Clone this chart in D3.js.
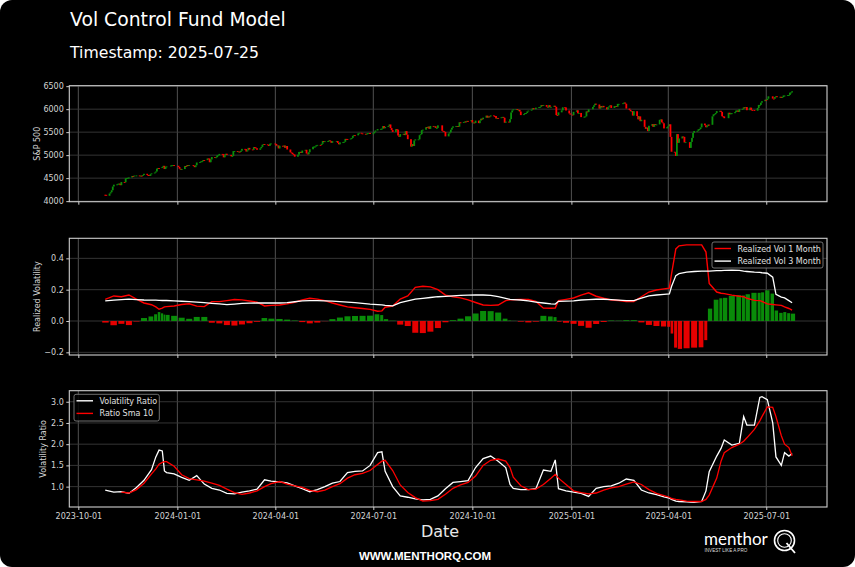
<!DOCTYPE html>
<html>
<head>
<meta charset="utf-8">
<script src="https://cdn.jsdelivr.net/npm/d3@7"></script>
<style>
body { margin: 0; background: #fff; }
svg { display: block; }
</style>
</head>
<body>
<div class="canvas"></div>
<script>

// S&P 500 daily closes, 2023-10-26 .. 2025-07-25 (one line per month)
const spxClose = [
	4137, 4117, 4166, 4194,
	4237, 4318, 4358, 4365, 4378, 4382, 4347, 4415, 4411, 4496, 4502, 4508, 4514, 4547, 4538, 4556, 4559, 4550, 4555, 4551, 4568,
	4595, 4569, 4567, 4549, 4586, 4604, 4622, 4644, 4707, 4720, 4719, 4741, 4768, 4698, 4746, 4755, 4775, 4781, 4783, 4770,
	4743, 4705, 4689, 4697, 4764, 4756, 4783, 4780, 4784, 4766, 4739, 4780, 4840, 4851, 4865, 4868, 4894, 4891, 4928, 4925, 4846,
	4906, 4959, 4943, 4954, 4996, 4998, 5027, 5022, 4953, 5001, 5030, 5006, 4976, 4982, 5087, 5089, 5070, 5078, 5070, 5096,
	5137, 5131, 5079, 5105, 5158, 5124, 5117, 5175, 5165, 5150, 5117, 5149, 5179, 5225, 5241, 5234, 5218, 5203, 5248, 5254,
	5243, 5205, 5211, 5147, 5204, 5202, 5209, 5160, 5199, 5123, 5061, 5051, 5022, 5011, 4967, 5010, 5070, 5072, 5048, 5100, 5116, 5036,
	5018, 5064, 5128, 5181, 5187, 5188, 5214, 5223, 5221, 5247, 5308, 5297, 5303, 5308, 5321, 5307, 5268, 5305, 5306, 5267, 5236, 5278,
	5283, 5291, 5354, 5352, 5347, 5361, 5375, 5421, 5434, 5431, 5473, 5487, 5473, 5465, 5448, 5469, 5478, 5483, 5460,
	5475, 5509, 5537, 5567, 5572, 5577, 5633, 5585, 5615, 5631, 5667, 5589, 5545, 5505, 5564, 5555, 5427, 5399, 5459, 5464, 5436, 5522,
	5446, 5347, 5186, 5240, 5199, 5319, 5344, 5344, 5435, 5455, 5543, 5554, 5608, 5597, 5621, 5571, 5635, 5616, 5626, 5592, 5592, 5648,
	5529, 5520, 5503, 5408, 5471, 5496, 5554, 5596, 5626, 5634, 5634, 5618, 5714, 5703, 5719, 5732, 5722, 5745, 5738, 5762,
	5709, 5710, 5699, 5751, 5696, 5751, 5793, 5780, 5815, 5859, 5815, 5843, 5841, 5865, 5853, 5851, 5797, 5809, 5808, 5823, 5832, 5813, 5705,
	5729, 5712, 5783, 5929, 5973, 5996, 6001, 5984, 5985, 5949, 5871, 5893, 5917, 5917, 5949, 5969, 5987, 6021, 5999, 6032,
	6047, 6050, 6087, 6075, 6090, 6053, 6034, 6085, 6051, 6051, 6074, 6050, 5872, 5867, 5931, 5974, 6040, 6037, 5971, 5907, 5882,
	5869, 5942, 5975, 5909, 5918, 5827, 5836, 5843, 5950, 5937, 5997, 6049, 6086, 6119, 6101, 6012, 6068, 6039, 6071, 6041,
	5995, 6038, 6061, 6084, 6026, 6066, 6069, 6052, 6115, 6115, 6129, 6144, 6118, 6013, 5983, 5955, 5956, 5861, 5955,
	5850, 5779, 5843, 5739, 5770, 5615, 5572, 5599, 5522, 5639, 5675, 5615, 5675, 5663, 5668, 5768, 5777, 5712, 5693, 5581, 5612,
	5633, 5671, 5397, 5074, 5062, 4982, 5457, 5268, 5363, 5406, 5397, 5276, 5283, 5158, 5288, 5376, 5485, 5525, 5529, 5561, 5569,
	5604, 5687, 5650, 5607, 5631, 5664, 5660, 5844, 5887, 5892, 5917, 5958, 5964, 5941, 5845, 5842, 5803, 5922, 5889, 5912, 5912,
	5936, 5970, 5971, 5939, 6000, 6006, 6039, 6022, 6045, 5977, 6033, 5983, 5981, 5967, 6025, 6092, 6092, 6141, 6173, 6205,
	6198, 6227, 6279, 6230, 6226, 6263, 6280, 6260, 6269, 6244, 6264, 6297, 6297, 6306, 6309, 6359, 6363, 6389
];
const firstOpen = 4139;
const firstDay = '2023-10-26';
const marketHolidays = [
	'2023-11-23', '2023-12-25', '2024-01-01', '2024-01-15', '2024-02-19', '2024-03-29', '2024-05-27',
	'2024-06-19', '2024-07-04', '2024-09-02', '2024-11-28', '2024-12-25', '2025-01-01', '2025-01-09',
	'2025-01-20', '2025-02-17', '2025-04-18', '2025-05-26', '2025-06-19', '2025-07-04'
];

// realized vol / ratio readings
const volDates = [
	'2023-10-26', '2023-11-03', '2023-11-10', '2023-11-17', '2023-11-24', '2023-12-01', '2023-12-08', '2023-12-12', '2023-12-15', '2023-12-18', '2023-12-20', '2023-12-22', '2023-12-29',
	'2024-01-05', '2024-01-12', '2024-01-19', '2024-01-26', '2024-02-02', '2024-02-09', '2024-02-16', '2024-02-23', '2024-03-01', '2024-03-08', '2024-03-15', '2024-03-22', '2024-03-28',
	'2024-04-05', '2024-04-12', '2024-04-19', '2024-04-26', '2024-05-03', '2024-05-10', '2024-05-17', '2024-05-24', '2024-05-31', '2024-06-07', '2024-06-14', '2024-06-21', '2024-06-28',
	'2024-07-05', '2024-07-09', '2024-07-12', '2024-07-19', '2024-07-26', '2024-08-02', '2024-08-09', '2024-08-16', '2024-08-23', '2024-08-30', '2024-09-06', '2024-09-13', '2024-09-20', '2024-09-27',
	'2024-10-04', '2024-10-11', '2024-10-18', '2024-10-25', '2024-11-01', '2024-11-05', '2024-11-08', '2024-11-15', '2024-11-22', '2024-11-29', '2024-12-06', '2024-12-13', '2024-12-17', '2024-12-20', '2024-12-27',
	'2025-01-03', '2025-01-10', '2025-01-17', '2025-01-24', '2025-01-31', '2025-02-07', '2025-02-14', '2025-02-21', '2025-02-28', '2025-03-07', '2025-03-14', '2025-03-21', '2025-03-28',
	'2025-04-02', '2025-04-04', '2025-04-08', '2025-04-11', '2025-04-18', '2025-04-25', '2025-05-02', '2025-05-06', '2025-05-09', '2025-05-16', '2025-05-20', '2025-05-23', '2025-05-30',
	'2025-06-06', '2025-06-10', '2025-06-13', '2025-06-20', '2025-06-25', '2025-06-27', '2025-07-02', '2025-07-07', '2025-07-10', '2025-07-15', '2025-07-18', '2025-07-22', '2025-07-25'
];
const vol1m = [
	.138, .160, .155, .166, .140, .115, .104, .090, .075, .082, .090, .092, .096,
	.105, .110, .095, .092, .124, .124, .130, .137, .135, .128, .120, .096, .100,
	.102, .109, .120, .135, .145, .140, .130, .115, .102, .090, .085, .080, .074,
	.062, .065, .088, .095, .140, .160, .215, .222, .218, .200, .165, .155, .148, .135,
	.118, .102, .100, .102, .130, .135, .136, .138, .137, .125, .082, .081, .083, .130, .138,
	.147, .165, .180, .158, .145, .134, .131, .125, .125, .155, .185, .198, .205,
	.210, .300, .460, .480, .486, .486, .486, .440, .240, .185, .177, .175, .165,
	.158, .155, .145, .132, .130, .125, .109, .105, .103, .100, .090, .080, .070
];
const vol3m = [
	.128, .133, .137, .140, .137, .134, .133, .133, .132, .131, .131, .131, .129,
	.126, .124, .121, .118, .113, .109, .104, .108, .113, .114, .115, .115, .115,
	.115, .118, .123, .128, .130, .130, .129, .127, .124, .120, .117, .113, .108,
	.105, .103, .100, .097, .117, .128, .140, .145, .150, .155, .157, .160, .163, .165,
	.166, .166, .163, .156, .145, .138, .137, .134, .128, .121, .115, .110, .108, .126, .127,
	.129, .134, .137, .139, .139, .137, .133, .130, .130, .146, .160, .166, .170,
	.173, .220, .290, .302, .312, .316, .318, .318, .319, .321, .322, .323, .325,
	.323, .318, .316, .312, .310, .308, .305, .280, .170, .152, .147, .130, .117
];
const volRatio = [
	.92, .87, .88, .84, .98, 1.15, 1.40, 1.70, 1.86, 1.84, 1.37, 1.33, 1.30,
	1.22, 1.15, 1.26, 1.06, .96, .92, .84, .83, .87, .90, .94, 1.16, 1.13,
	1.11, 1.09, 1.02, .95, .88, .93, 1.00, 1.08, 1.12, 1.33, 1.36, 1.37, 1.50,
	1.80, 1.82, 1.36, 1.00, .78, .75, .71, .69, .70, .78, .95, 1.10, 1.12, 1.14,
	1.45, 1.66, 1.72, 1.60, 1.45, 1.05, .96, .93, .93, .95, 1.39, 1.36, 1.63, .95, .90,
	.87, .84, .77, .96, 1.00, 1.02, 1.08, 1.18, 1.15, .92, .85, .81, .76,
	.73, .70, .66, .65, .64, .63, .65, .90, 1.35, 1.72, 1.90, 2.10, 1.98,
	2.02, 2.65, 2.45, 2.45, 3.10, 3.12, 3.05, 2.50, 1.70, 1.50, 1.80, 1.72, 1.78
];
const ratioSma10 = [
	null, null, .87, .85, .93, 1.08, 1.30, 1.42, 1.53, 1.57, 1.59, 1.59, 1.48,
	1.28, 1.19, 1.16, 1.13, 1.08, 1.03, .94, .86, .82, .85, .90, 1.00, 1.07,
	1.12, 1.06, 1.02, .98, .91, .88, .92, 1.00, 1.07, 1.20, 1.28, 1.31, 1.38,
	1.52, 1.60, 1.62, 1.38, 1.04, .86, .74, .66, .67, .70, .82, .96, 1.04, 1.10,
	1.25, 1.50, 1.62, 1.65, 1.60, 1.45, 1.22, 1.02, .93, .94, 1.05, 1.20, 1.29, 1.20, 1.05,
	.90, .86, .83, .85, .92, .97, 1.00, 1.06, 1.11, 1.05, .93, .84, .79,
	.75, .72, .70, .69, .66, .65, .65, .70, .80, 1.20, 1.60, 1.80, 1.92,
	2.00, 2.07, 2.15, 2.35, 2.55, 2.65, 2.88, 2.87, 2.65, 2.20, 2.00, 1.92, 1.73
];

// tick labels
const dateTicks = ['2023-10-01', '2024-01-01', '2024-04-01', '2024-07-01', '2024-10-01', '2025-01-01', '2025-04-01', '2025-07-01'];
const priceTicks = [4000, 4500, 5000, 5500, 6000, 6500];
const volTicks = [-0.2, 0, 0.2, 0.4];
const ratioTicks = [1.0, 1.5, 2.0, 2.5, 3.0];

const W = 855, H = 567;
const FONT = 'DejaVu Sans';
const TXT = '#d4d4d4';

const svg = d3.select('.canvas')
	.append('svg')
	.attr('width', W)
	.attr('height', H);

svg.append('rect')
	.attr('width', W)
	.attr('height', H)
	.attr('rx', 12)
	.attr('fill', '#000');

// dates
const parse = d3.utcParse('%Y-%m-%d');
const fmtDay = d3.utcFormat('%Y-%m-%d');
const holidaySet = new Set(marketHolidays);
const tradeDates = [];
for (let d = parse(firstDay); tradeDates.length < spxClose.length; d = d3.utcDay.offset(d, 1)) {
	const wd = d.getUTCDay();
	if (wd === 0 || wd === 6 || holidaySet.has(fmtDay(d))) continue;
	tradeDates.push(d);
}
const candles = spxClose.map((c, i) => ({
	date: tradeDates[i],
	open: i ? spxClose[i - 1] : firstOpen,
	close: c
}));
const volData = volDates.map((d, i) => ({
	date: parse(d),
	v1: vol1m[i],
	v3: vol3m[i],
	ratio: volRatio[i],
	sma: ratioSma10[i]
}));

// scales
const left = 69.3, right = 827;
const x = d3.scaleUtc()
	.domain([new Date(Date.UTC(2023, 8, 22, 15)), new Date(Date.UTC(2025, 7, 26, 10))])
	.range([left, right]);

const panels = [
	{ key: 'price', top: 85.7, bottom: 201.7, domain: [3988, 6510], ticks: priceTicks, fmt: d3.format('d'), label: 'S&P 500', labelX: 39.5 },
	{ key: 'vol', top: 238.3, bottom: 355, domain: [-0.217, 0.528], ticks: volTicks, fmt: d => d3.format('.1f')(d).replace('-', '\u2212'), label: 'Realized Volatility', labelX: 39.5 },
	{ key: 'ratio', top: 390.7, bottom: 507, domain: [0.52, 3.26], ticks: ratioTicks, fmt: d3.format('.1f'), label: 'Volatility Ratio', labelX: 46 }
];
panels.forEach(p => {
	p.y = d3.scaleLinear().domain(p.domain).range([p.bottom, p.top]);
});

// frames, grid, axes
panels.forEach((p, idx) => {
	const g = svg.append('g');

	g.selectAll('.vgrid')
		.data(dateTicks)
		.enter()
		.append('line')
		.attr('x1', d => x(parse(d)))
		.attr('x2', d => x(parse(d)))
		.attr('y1', p.top)
		.attr('y2', p.bottom)
		.attr('stroke', '#5a5a5a')
		.attr('stroke-width', 0.9);

	g.selectAll('.hgrid')
		.data(p.ticks)
		.enter()
		.append('line')
		.attr('x1', left)
		.attr('x2', right)
		.attr('y1', d => p.y(d))
		.attr('y2', d => p.y(d))
		.attr('stroke', '#3a3a3a')
		.attr('stroke-width', 0.9);

	const yAxis = d3.axisLeft(p.y)
		.tickValues(p.ticks)
		.tickFormat(p.fmt)
		.tickSize(3)
		.tickPadding(2.5);
	const yg = g.append('g')
		.attr('transform', `translate(${left},0)`)
		.call(yAxis);

	const xAxis = d3.axisBottom(x)
		.tickValues(dateTicks.map(parse))
		.tickFormat(idx === 2 ? d3.utcFormat('%Y-%m-%d') : '')
		.tickSize(3)
		.tickPadding(3);
	const xg = g.append('g')
		.attr('transform', `translate(0,${p.bottom})`)
		.call(xAxis);

	[yg, xg].forEach(a => {
		a.select('.domain').remove();
		a.selectAll('line').attr('stroke', '#cfcfcf');
		a.selectAll('text')
			.attr('fill', TXT)
			.attr('font-family', FONT)
			.attr('font-size', '8px');
	});

	g.append('text')
		.attr('transform', `translate(${p.labelX},${(p.top + p.bottom) / 2}) rotate(-90)`)
		.attr('text-anchor', 'middle')
		.attr('fill', TXT)
		.attr('font-family', FONT)
		.attr('font-size', '8px')
		.text(p.label);

	p.g = g;
});

// candles
const pp = panels[0];
svg.append('g')
	.selectAll('rect')
	.data(candles)
	.enter()
	.append('rect')
	.attr('x', d => x(d.date) - 0.9)
	.attr('width', 1.8)
	.attr('y', d => pp.y(Math.max(d.open, d.close)))
	.attr('height', d => Math.max(Math.abs(pp.y(d.open) - pp.y(d.close)), 0.9))
	.attr('fill', d => d.close >= d.open ? '#0a8f0a' : '#ff0000');

// realized vol panel
const pv = panels[1];
const barW = (i) => {
	const prev = i > 0 ? x(volData[i].date) - x(volData[i - 1].date) : 7.5;
	const next = i < volData.length - 1 ? x(volData[i + 1].date) - x(volData[i].date) : 7.5;
	return [prev / 2, next / 2];
};
svg.append('g')
	.selectAll('rect')
	.data(volData)
	.enter()
	.append('rect')
	.attr('x', (d, i) => x(d.date) - barW(i)[0] * 0.8)
	.attr('width', (d, i) => Math.max((barW(i)[0] + barW(i)[1]) * 0.8, 0.5))
	.attr('y', d => pv.y(Math.max(0, d.v3 - d.v1)))
	.attr('height', d => Math.abs(pv.y(d.v3 - d.v1) - pv.y(0)))
	.attr('fill', d => d.v3 - d.v1 >= 0 ? '#0a9a0a' : '#ff0000')
	.attr('opacity', 0.9);

const line = (y, key) => d3.line()
	.defined(d => d[key] != null)
	.x(d => x(d.date))
	.y(d => y(d[key]));

svg.append('path')
	.datum(volData)
	.attr('d', line(pv.y, 'v1'))
	.attr('fill', 'none')
	.attr('stroke', '#ff0000')
	.attr('stroke-width', 1.4);
svg.append('path')
	.datum(volData)
	.attr('d', line(pv.y, 'v3'))
	.attr('fill', 'none')
	.attr('stroke', '#ffffff')
	.attr('stroke-width', 1.3);

// ratio panel
const pr = panels[2];
svg.append('path')
	.datum(volData)
	.attr('d', line(pr.y, 'ratio'))
	.attr('fill', 'none')
	.attr('stroke', '#ffffff')
	.attr('stroke-width', 1.3);
svg.append('path')
	.datum(volData)
	.attr('d', line(pr.y, 'sma'))
	.attr('fill', 'none')
	.attr('stroke', '#ff0000')
	.attr('stroke-width', 1.3);

// spines on top
panels.forEach(p => {
	svg.append('rect')
		.attr('x', left)
		.attr('y', p.top)
		.attr('width', right - left)
		.attr('height', p.bottom - p.top)
		.attr('fill', 'none')
		.attr('stroke', '#cfcfcf')
		.attr('stroke-width', 1.1);
});

// legends
const legend = (bx, by, bw, bh, items) => {
	const g = svg.append('g');
	g.append('rect')
		.attr('x', bx).attr('y', by)
		.attr('width', bw).attr('height', bh)
		.attr('rx', 2)
		.attr('fill', '#000')
		.attr('fill-opacity', 0.85)
		.attr('stroke', '#8a8a8a')
		.attr('stroke-width', 0.8);
	items.forEach((it, i) => {
		const yy = by + 6.5 + i * 12.6;
		g.append('line')
			.attr('x1', bx + 2.5).attr('x2', bx + 19)
			.attr('y1', yy).attr('y2', yy)
			.attr('stroke', it.color)
			.attr('stroke-width', 1.4);
		g.append('text')
			.attr('x', bx + 25.5)
			.attr('y', yy + 3)
			.attr('fill', '#e0e0e0')
			.attr('font-family', FONT)
			.attr('font-size', '8px')
			.text(it.name);
	});
};
legend(712, 242, 111, 26, [
	{ name: 'Realized Vol 1 Month', color: '#ff0000' },
	{ name: 'Realized Vol 3 Month', color: '#ffffff' }
]);
legend(74, 394.3, 85.3, 26.7, [
	{ name: 'Volatility Ratio', color: '#ffffff' },
	{ name: 'Ratio Sma 10', color: '#ff0000' }
]);

// titles
svg.append('text')
	.attr('x', 70).attr('y', 26)
	.attr('fill', '#fff')
	.attr('font-family', FONT)
	.attr('font-size', '18.8px')
	.text('Vol Control Fund Model');
svg.append('text')
	.attr('x', 70).attr('y', 58.3)
	.attr('fill', '#fff')
	.attr('font-family', FONT)
	.attr('font-size', '15.7px')
	.text('Timestamp: 2025-07-25');

svg.append('text')
	.attr('x', 440).attr('y', 536.7)
	.attr('text-anchor', 'middle')
	.attr('fill', '#e8e8e8')
	.attr('font-family', FONT)
	.attr('font-size', '16px')
	.text('Date');

svg.append('text')
	.attr('x', 425).attr('y', 560)
	.attr('text-anchor', 'middle')
	.attr('fill', '#fff')
	.attr('font-family', 'Liberation Sans')
	.attr('font-weight', 'bold')
	.attr('font-size', '11.5px')
	.text('WWW.MENTHORQ.COM');

// logo
const logo = svg.append('g');
logo.append('text')
	.attr('x', 704).attr('y', 545)
	.attr('fill', '#fff')
	.attr('font-family', 'Lato')
	.attr('font-size', '17px')
	.text('menthor');
logo.append('text')
	.attr('x', 704.5).attr('y', 551.5)
	.attr('fill', '#ddd')
	.attr('font-family', 'Liberation Sans')
	.attr('font-size', '4.6px')
	.text('INVEST LIKE A PRO');
logo.append('circle')
	.attr('cx', 784.5).attr('cy', 540.5).attr('r', 10)
	.attr('fill', 'none').attr('stroke', '#fff').attr('stroke-width', 1.6);
logo.append('circle')
	.attr('cx', 784.5).attr('cy', 540.5).attr('r', 6.8)
	.attr('fill', 'none').attr('stroke', '#fff').attr('stroke-width', 1.1);
logo.append('line')
	.attr('x1', 786.5).attr('y1', 543).attr('x2', 795).attr('y2', 553)
	.attr('stroke', '#fff').attr('stroke-width', 1.8);

</script>
</body>
</html>
